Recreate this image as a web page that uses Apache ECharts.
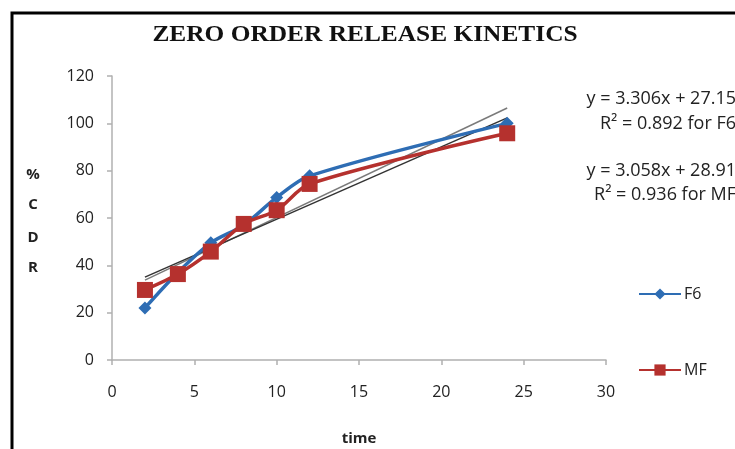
<!DOCTYPE html>
<html>
<head>
<meta charset="utf-8">
<script src="https://cdn.jsdelivr.net/npm/echarts@6/dist/echarts.min.js"></script>
<style>html,body{margin:0;padding:0;background:#fff}#c{width:735px;height:449px}</style>
</head>
<body>
<div id="c"></div>
<script>
var timePoints = [2, 4, 6, 8, 10, 12, 24];
var f6Values = [22, 37, 49.5, 57, 68.7, 77.8, 100];
var mfValues = [29.6, 36.3, 45.8, 57.5, 63.3, 74.4, 95.8];
var f6Fit = [3.306, 27.15];   // slope, intercept
var mfFit = [3.058, 28.91];
var fitRange = [2, 24];
var xTicks = [0, 5, 10, 15, 20, 25, 30];
var yTicks = [0, 20, 40, 60, 80, 100, 120];
var fitTexts = ['y = 3.306x + 27.15', 'R² = 0.892 for F6', 'y = 3.058x + 28.91', 'R² = 0.936 for MF'];
var yTitleLetters = ['%', 'C', 'D', 'R'];

function pairs(xs, ys) { return xs.map(function (x, i) { return [x, ys[i]]; }); }
function fitLine(c) { return fitRange.map(function (x) { return [x, c[0] * x + c[1]]; }); }

var chart = echarts.init(document.getElementById('c'), null, {renderer: 'canvas'});
var labelFont = '"Open Sans", "Liberation Sans", sans-serif';
var graphics = [
  {type: 'polyline', shape: {points: [[12, 449], [12, 13], [735, 13]]}, style: {stroke: '#000', lineWidth: 3, fill: null}, z: 100},
  {type: 'text', x: 365, y: 35, scaleX: 1.08, style: {text: 'ZERO ORDER RELEASE KINETICS', align: 'center', verticalAlign: 'middle',
    font: 'bold 23.5px "Liberation Serif", "Times New Roman", serif', fill: '#111'}}
];
var letterY = [175, 205, 238, 268];
yTitleLetters.forEach(function (t, i) {
  graphics.push({type: 'text', x: 33, y: letterY[i], style: {text: t, align: 'center', verticalAlign: 'middle', font: 'bold 15px ' + labelFont, fill: '#222'}});
});
var textY = [99, 124, 171, 195];
fitTexts.forEach(function (t, i) {
  graphics.push({type: 'text', x: 736, y: textY[i], style: {text: t, font: '18px ' + labelFont, fill: '#222', align: 'right', verticalAlign: 'middle'}});
});

chart.setOption({
  animation: false,
  grid: {left: 112, right: 129, top: 76, bottom: 89, containLabel: false, outerBoundsMode: 'none'},
  legend: {orient: 'vertical', left: 633, top: 281, itemGap: 60, itemWidth: 42, itemHeight: 14,
    data: ['F6', 'MF'], textStyle: {fontFamily: labelFont, fontSize: 16, color: '#222', padding: [0, 0, 0, -2]}},
  xAxis: {type: 'value', min: 0, max: 30, interval: 5,
    axisLine: {lineStyle: {color: '#b0b0b0', width: 1.5}},
    axisTick: {show: true, length: 5, lineStyle: {color: '#b0b0b0', width: 1.5}},
    axisLabel: {margin: 24, fontFamily: labelFont, fontSize: 16, color: '#222'},
    splitLine: {show: false},
    name: 'time', nameLocation: 'middle', nameGap: 71,
    nameTextStyle: {fontFamily: labelFont, fontWeight: 'bold', fontSize: 15, color: '#222'}},
  yAxis: {type: 'value', min: 0, max: 120, interval: 20,
    axisLine: {show: true, lineStyle: {color: '#b0b0b0', width: 1.5}},
    axisTick: {show: true, length: 5, lineStyle: {color: '#b0b0b0', width: 1.5}},
    axisLabel: {margin: 18, fontFamily: labelFont, fontSize: 16, color: '#222'},
    splitLine: {show: false}},
  series: [
    {name: 'F6 fit', type: 'line', data: fitLine(f6Fit), symbol: 'none', lineStyle: {color: '#7a7a7a', width: 1.5}, z: 1},
    {name: 'MF fit', type: 'line', data: fitLine(mfFit), symbol: 'none', lineStyle: {color: '#333', width: 1.5}, z: 1},
    {name: 'F6', type: 'line', data: pairs(timePoints, f6Values), smooth: 0.3, symbol: 'diamond', symbolSize: 13,
      itemStyle: {color: '#2e6db4'}, lineStyle: {color: '#2e6db4', width: 3.5}, z: 3},
    {name: 'MF', type: 'line', data: pairs(timePoints, mfValues), smooth: 0.3, symbol: 'rect', symbolSize: 16,
      itemStyle: {color: '#b5312e'}, lineStyle: {color: '#b5312e', width: 3.5}, z: 4}
  ],
  graphic: graphics
});
</script>
</body>
</html>
